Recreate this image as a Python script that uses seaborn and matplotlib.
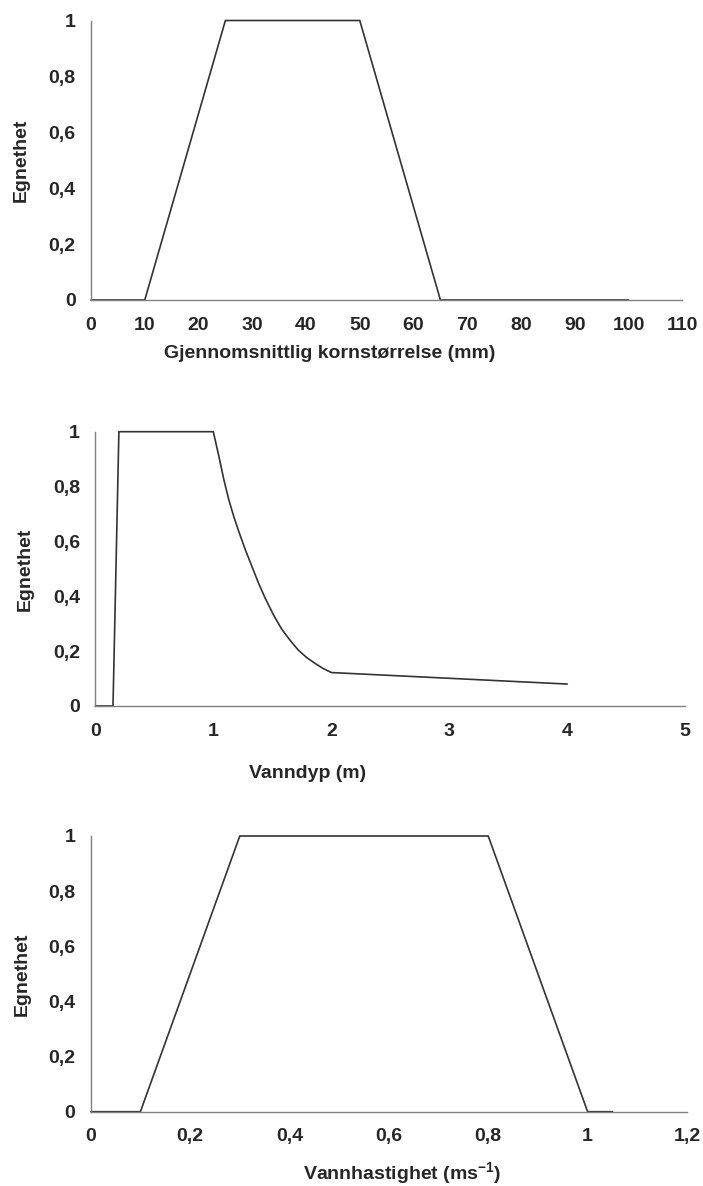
import pandas as pd
import numpy as np
import matplotlib
matplotlib.use("Agg")
import matplotlib.pyplot as plt
import seaborn as sns

# kornstørrelse (mm) -> egnethet
korn_x = [0, 10, 25, 50, 65, 100]
korn_y = [0, 0, 1, 1, 0, 0]

# vanndyp (m) -> egnethet (kurven mellom 1 og 2 m er avlest punkt for punkt)
dyp_x = [0, 0.15, 0.2, 1.0, 1.048, 1.09, 1.132, 1.174, 1.216, 1.272, 1.328, 1.384,
         1.44, 1.51, 1.58, 1.65, 1.72, 1.79, 1.86, 1.93, 2.0, 4.0]
dyp_y = [0, 0, 1, 1, 0.909, 0.824, 0.751, 0.69, 0.636, 0.569, 0.508, 0.447,
         0.393, 0.332, 0.28, 0.24, 0.204, 0.177, 0.156, 0.137, 0.122, 0.08]

# vannhastighet (m/s) -> egnethet
hast_x = [0, 0.1, 0.3, 0.8, 1.0, 1.05]
hast_y = [0, 0, 1, 1, 0, 0]

y_ticks = [0, 0.2, 0.4, 0.6, 0.8, 1]
y_labels = ["0", "0,2", "0,4", "0,6", "0,8", "1"]

korn_ticks = list(range(0, 111, 10))
dyp_ticks = [0, 1, 2, 3, 4, 5]
hast_ticks = [0, 0.2, 0.4, 0.6, 0.8, 1.0, 1.2]
hast_labels = ["0", "0,2", "0,4", "0,6", "0,8", "1", "1,2"]

sns.set_style("white")
plt.rcParams['font.family'] = ['Liberation Sans', 'DejaVu Sans']
plt.rcParams['font.weight'] = 'bold'
plt.rcParams['mathtext.fontset'] = 'custom'
plt.rcParams['mathtext.bf'] = 'Liberation Sans:bold'
plt.rcParams['mathtext.rm'] = 'Liberation Sans:bold'
plt.rcParams['mathtext.default'] = 'bf'

W, H = 703, 1186
fig = plt.figure(figsize = (W / 100, H / 100), dpi = 100)

def px_axes(left, right, top, bottom):
  return fig.add_axes([left / W, 1 - bottom / H, (right - left) / W, (bottom - top) / H])

panels = [
  dict(box = (91, 682.3, 20.5, 300), x = korn_x, y = korn_y, xlim = (0, 110),
       xt = korn_ticks, xl = [str(t) for t in korn_ticks],
       label = "Gjennomsnittlig kornstørrelse (mm)", lx = 0.404, ly = -0.19, yx = -0.118),
  dict(box = (95.3, 685.3, 431.7, 706), x = dyp_x, y = dyp_y, xlim = (0, 5),
       xt = dyp_ticks, xl = [str(t) for t in dyp_ticks],
       label = "Vanndyp (m)", lx = 0.36, ly = -0.245, yx = -0.119),
  dict(box = (90.7, 687, 836, 1111.7), x = hast_x, y = hast_y, xlim = (0, 1.2),
       xt = hast_ticks, xl = hast_labels,
       label = r"Vannhastighet (ms$^{-1}$)", lx = 0.522, ly = -0.222, yx = -0.114),
]

for p in panels:
  ax = px_axes(*p['box'])
  df = pd.DataFrame({'x': p['x'], 'y': p['y']})
  sns.lineplot(data = df, x = 'x', y = 'y', ax = ax, sort = False, estimator = None,
               color = '#333333', linewidth = 1.2, clip_on = False)
  ax.set_xlim(*p['xlim'])
  ax.set_ylim(0, 1)
  ax.set_xticks(p['xt'])
  ax.set_xticklabels(p['xl'], fontsize = 14, fontweight = 'bold')
  ax.set_yticks(y_ticks)
  ax.set_yticklabels(y_labels, fontsize = 14, fontweight = 'bold')
  for s in ['top', 'right']:
    ax.spines[s].set_visible(False)
  for s in ['left', 'bottom']:
    ax.spines[s].set_color('#808080')
    ax.spines[s].set_linewidth(1.0)
  ax.tick_params(axis = 'both', direction = 'out', length = 4, width = 1.0, color = '#808080')
  ax.tick_params(axis = 'y', pad = 7)
  ax.tick_params(axis = 'x', pad = 8)
  ax.set_xlabel(p['label'], fontsize = 14, fontweight = 'bold', va = 'center')
  ax.xaxis.set_label_coords(p['lx'], p['ly'])
  ax.set_ylabel("Egnethet", fontsize = 14, fontweight = 'bold', va = 'center')
  ax.yaxis.set_label_coords(p['yx'], 0.5)
  ax.patch.set_alpha(0)

fig.savefig("out.png", dpi = 100)
